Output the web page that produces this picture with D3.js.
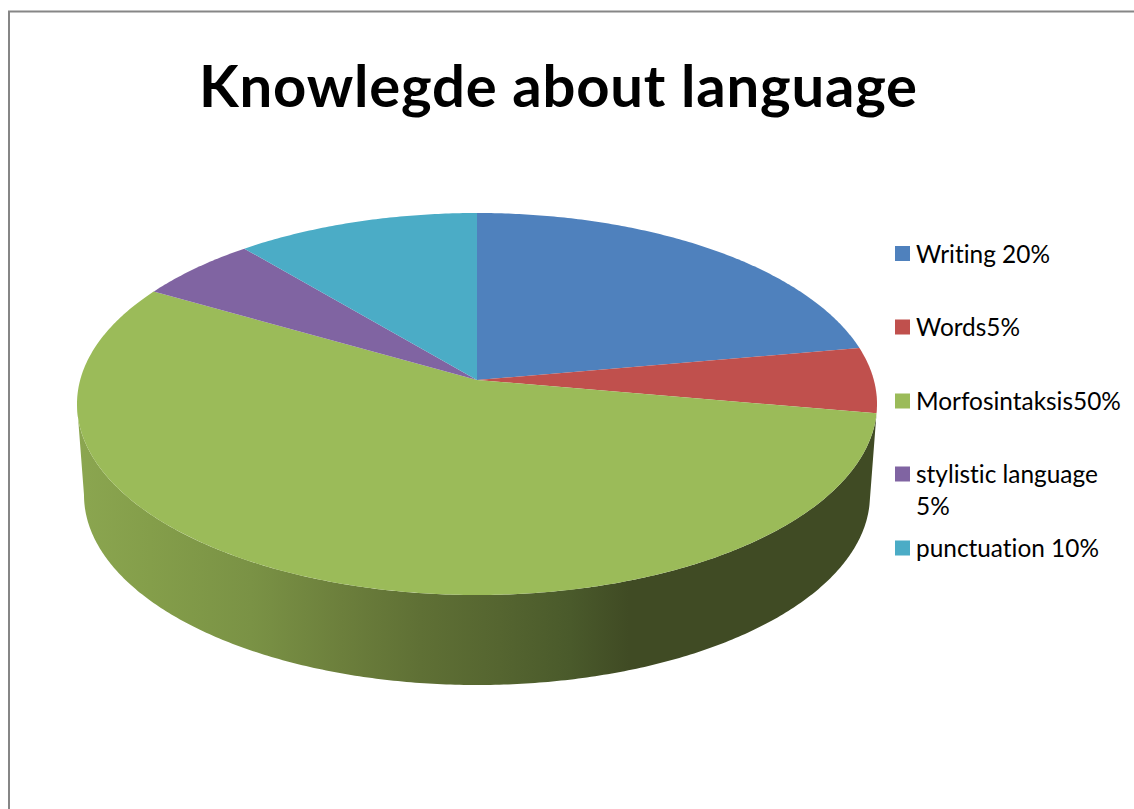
<!DOCTYPE html>
<html>
<head>
<meta charset="utf-8">
<script src="https://cdn.jsdelivr.net/npm/d3@7/dist/d3.min.js"></script>
<style>
  html, body { margin: 0; padding: 0; background: #fff; }
  svg { display: block; }
  text { font-family: Lato, "Open Sans", sans-serif; fill: #000; font-variant-ligatures: none; }
</style>
</head>
<body>
<div id="chart"></div>
<script>
// Survey shares of language knowledge areas
const categories = ["Writing", "Words", "Morfosintaksis", "stylistic language", "punctuation"];
const shares = [20, 5, 50, 5, 10];
const legendLines = [["Writing 20%"], ["Words5%"], ["Morfosintaksis50%"], ["stylistic language", "5%"], ["punctuation 10%"]];
const colors = ["#4F81BD", "#C0504D", "#9BBB59", "#8064A2", "#4BACC6"];
const sideStops = [
  [0.00, "#8BA650"], [0.13, "#849E4A"], [0.31, "#7A9245"], [0.47, "#6C7F3C"],
  [0.61, "#5F7035"], [0.75, "#556530"], [0.876, "#4A5A2B"], [0.98, "#404B24"], [1.00, "#404B24"]
];
const chartTitle = "Knowlegde about language";

const width = 1134, height = 809;
const svg = d3.select("#chart").append("svg").attr("width", width).attr("height", height);

// Frame: only the top and left edges fall inside the page
svg.append("path")
  .attr("d", `M9,${height}V11.5H${width}`)
  .attr("fill", "none").attr("stroke", "#868686").attr("stroke-width", 2);

svg.append("text")
  .attr("x", 558).attr("y", 107)
  .attr("text-anchor", "middle")
  .attr("font-size", 58).attr("font-weight", 700)
  .attr("textLength", 718).attr("lengthAdjust", "spacing")
  .text(chartTitle);

// Perspective tilt of the disc: the true centre sits above the centre of the visible ellipse
const tilt = 24 / 191;
const topRim = { cx: 477, cy: 404, rx: 400, ry: 191 };
const lowRim = { cx: 477, cy: 495, rx: 393, ry: 190 };

function project(rim, angle) {
  const u = Math.sin(angle), v = -Math.cos(angle);
  const d = 1 - tilt * v;
  return [
    rim.cx + rim.rx * u * Math.sqrt(1 - tilt * tilt) / d,
    rim.cy + rim.ry * (v - tilt) / d
  ];
}

const pie = d3.pie().sort(null).value(d => d);
const arcs = pie(shares);
const apex = [topRim.cx, topRim.cy - tilt * topRim.ry];
const line = d3.line();

function samples(a0, a1) {
  const n = Math.max(2, Math.ceil((a1 - a0) / 0.01));
  return d3.range(n + 1).map(i => a0 + (a1 - a0) * i / n);
}

// Side wall is drawn for the front-facing part of each slice
const leftTurn = 2 * Math.PI - Math.acos(-tilt);
const rightTurn = Math.acos(tilt);

const defs = svg.append("defs");
const grad = defs.append("linearGradient")
  .attr("id", "wall-shade")
  .attr("gradientUnits", "userSpaceOnUse")
  .attr("x1", 77).attr("x2", 640).attr("y1", 0).attr("y2", 0);
grad.selectAll("stop").data(sideStops).join("stop")
  .attr("offset", d => d[0]).attr("stop-color", d => d[1]);

arcs.forEach((a, i) => {
  const a0 = Math.max(a.startAngle, rightTurn);
  const a1 = Math.min(a.endAngle, leftTurn);
  if (a1 <= a0 || i !== categories.indexOf("Morfosintaksis")) return;
  const ts = samples(a0, a1);
  const pts = ts.map(t => project(topRim, t))
    .concat(ts.slice().reverse().map(t => project(lowRim, t)));
  svg.append("path")
    .attr("d", line(pts) + "Z")
    .attr("fill", "url(#wall-shade)");
});

// Top faces, each fanned from the projected centre
svg.append("g").selectAll("path").data(arcs).join("path")
  .attr("d", a => line([apex].concat(samples(a.startAngle, a.endAngle).map(t => project(topRim, t)))) + "Z")
  .attr("fill", (a, i) => colors[i]);

// Legend
const legendY = [253.5, 327, 401, 474, 548];
const lg = svg.append("g").selectAll("g").data(categories).join("g")
  .attr("transform", (d, i) => `translate(895,${legendY[i]})`);
lg.append("rect")
  .attr("x", 0).attr("y", -7.5).attr("width", 15).attr("height", 15)
  .attr("fill", (d, i) => colors[i]);
lg.each(function (d, i) {
  const t = d3.select(this).append("text").attr("x", 21).attr("y", 9).attr("font-size", 24.4);
  legendLines[i].forEach((s, k) => {
    t.append("tspan").attr("x", 21).attr("dy", k ? 32 : 0).text(s);
  });
});
</script>
</body>
</html>
